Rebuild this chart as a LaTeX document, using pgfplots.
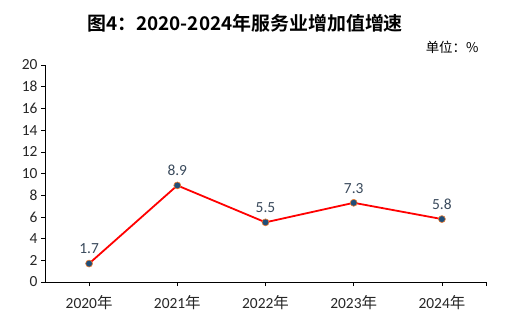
\documentclass[border=0pt]{standalone}
\usepackage{pgfplots}
\pgfplotsset{compat=1.18}
\usepackage{fontspec}
\setmainfont{Carlito}
\newfontfamily\cjk{Noto Sans CJK SC}
\newfontfamily\cjkb{Noto Sans CJK SC Bold}
\definecolor{lbl}{HTML}{3A4A5C}
\definecolor{mk}{HTML}{1F4E79}
\definecolor{mko}{HTML}{ED7D31}
\begin{document}
\begin{tikzpicture}[x=1bp,y=1bp]
\path[use as bounding box] (0,0) rectangle (508,326);
\node[font=\cjkb\fontsize{19}{22}\selectfont] at (245,303) {图4：2020-2024年服务业增加值增速};
\node[font=\cjk\fontsize{13.5}{16}\selectfont, anchor=east] at (482,279) {单位：\%};
\begin{axis}[
  at={(45bp,44bp)}, anchor=south west,
  scale only axis, width=441bp, height=217bp,
  xmin=-0.5, xmax=4.5, ymin=0, ymax=20,
  axis x line*=bottom, axis y line*=left,
  axis line style={black, line width=0.8pt, -},
  xtick={0,1,2,3,4}, extra x ticks={4.5}, extra x tick labels={},
  xticklabels={2020{\cjk 年},2021{\cjk 年},2022{\cjk 年},2023{\cjk 年},2024{\cjk 年}},
  ytick={0,2,...,20},
  tick align=outside, major tick length=4bp,
  tick style={black, line width=0.6pt},
  ticklabel style={font=\fontsize{15.5}{18}\selectfont, text=black!85},
  /pgf/number format/assume math mode=true,
  xticklabel style={yshift=-6bp},
  clip=false,
  nodes near coords,
  point meta=explicit symbolic,
  every node near coord/.style={font=\fontsize{15.5}{18}\selectfont, text=lbl, anchor=south, yshift=6bp},
]
\addplot[color=red, line width=1.8pt, mark=*, mark size=3.5pt,
  mark options={fill=mk, draw=mko, line width=0.6pt}]
  table[meta=l] {
x y l
0 1.7 1.7
1 8.9 8.9
2 5.5 5.5
3 7.3 7.3
4 5.8 5.8
};
\end{axis}
\end{tikzpicture}
\end{document}
